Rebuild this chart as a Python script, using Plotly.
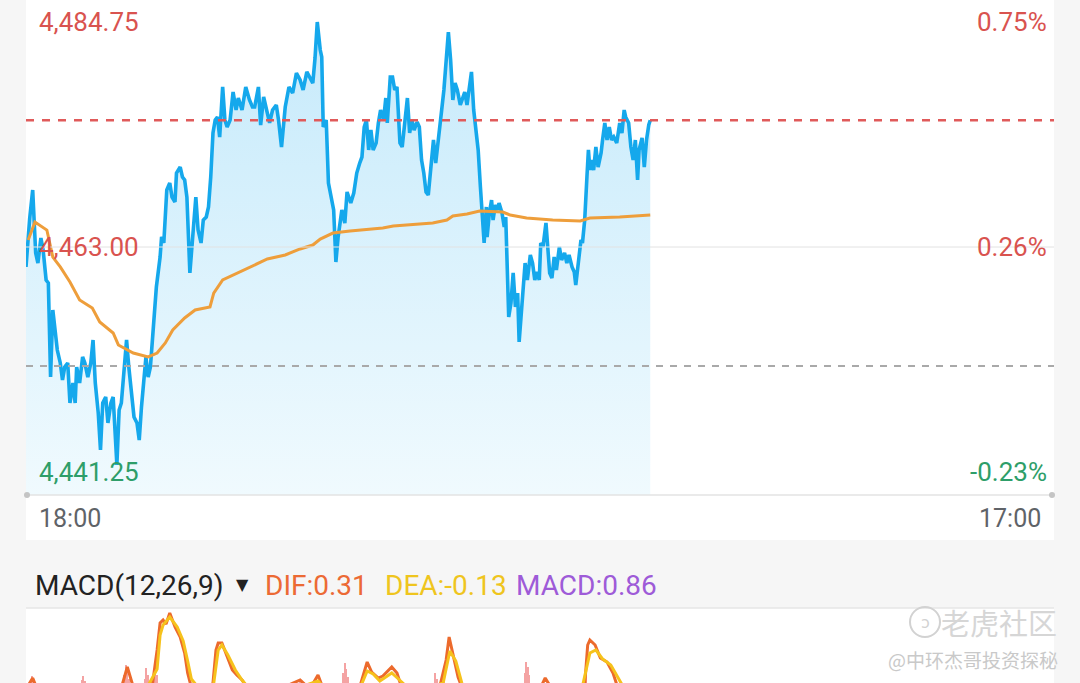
import plotly.graph_objects as go

W, H = 1080, 683

# ---------------- data ----------------
prev_close = 4451.50
last_price = 4475.25
session_minutes = 1380  # 18:00 -> 17:00 next day

left_labels = ["4,484.75", "4,463.00", "4,441.25"]
label_values = [4484.75, 4463.00, 4441.25]
right_labels = ["0.75%", "0.26%", "-0.23%"]
time_labels = ["18:00", "17:00"]

# minutes after 18:00
price_t = [0, 3, 5, 9, 11, 13, 16, 20, 23, 27, 30, 33, 36, 39, 42, 46, 49, 52, 56, 59,
           63, 66, 68, 72, 76, 79, 83, 87, 90, 93, 97, 100, 103, 107, 110, 114, 117, 122, 125, 128,
           132, 135, 138, 142, 145, 149, 152, 155, 158, 161, 164, 167, 170, 175, 180, 182, 185, 189, 193, 196,
           200, 202, 207, 210, 213, 216, 220, 224, 228, 231, 235, 238, 242, 245, 248, 251, 254, 257, 260, 264,
           267, 270, 274, 278, 282, 285, 290, 295, 300, 304, 307, 312, 315, 319, 323, 327, 331, 336, 339, 343,
           348, 353, 358, 363, 368, 372, 377, 381, 385, 388, 391, 395, 397, 399, 403, 406, 410, 413, 416, 419,
           424, 428, 431, 436, 440, 444, 448, 451, 454, 457, 460, 463, 466, 470, 473, 476, 480, 483, 485, 489,
           492, 495, 498, 502, 505, 509, 512, 515, 518, 521, 525, 528, 531, 534, 537, 540, 543, 547, 550, 553,
           558, 561, 565, 567, 570, 573, 576, 579, 583, 586, 589, 592, 595, 598, 601, 605, 607, 610, 613, 615,
           618, 619, 622, 625, 627, 630, 633, 635, 639, 642, 644, 646, 648, 651, 654, 657, 660, 662, 667, 670,
           673, 677, 680, 683, 686, 689, 691, 694, 698, 700, 703, 706, 709, 712, 716, 719, 723, 726, 729, 733,
           736, 738, 741, 745, 747, 750, 753, 755, 757, 759, 762, 765, 768, 772, 774, 777, 780, 783, 786, 789,
           793, 797, 800, 803, 805, 809, 812, 815, 818, 821, 823, 827, 830, 833, 836, 838]
price_v = [4461.07, 4464.64, 4465.80, 4468.51, 4465.90, 4462.42, 4461.45, 4463.87, 4462.71, 4459.81,
           4459.52, 4450.43, 4456.91, 4454.98, 4453.04, 4451.79, 4450.14, 4451.40, 4451.79, 4447.92,
           4449.85, 4447.92, 4451.40, 4449.85, 4452.37, 4451.79, 4450.43, 4451.79, 4454.01, 4449.85,
           4446.95, 4443.38, 4447.92, 4448.50, 4445.99, 4447.92, 4448.50, 4441.93, 4447.24, 4447.92,
           4451.11, 4454.01, 4451.40, 4448.50, 4446.57, 4445.99, 4444.34, 4447.53, 4449.85, 4452.37,
           4450.43, 4451.40, 4454.30, 4459.13, 4462.03, 4463.97, 4463.39, 4468.51, 4469.19, 4467.83,
           4467.35, 4470.15, 4470.73, 4469.77, 4469.48, 4467.83, 4460.49, 4463.97, 4467.83, 4464.64,
           4463.39, 4465.61, 4465.90, 4466.87, 4469.77, 4474.02, 4475.28, 4475.57, 4473.63, 4478.47,
           4475.28, 4474.60, 4475.28, 4477.98, 4476.24, 4477.40, 4476.24, 4478.47, 4477.21, 4476.53,
           4476.53, 4478.47, 4474.79, 4477.50, 4476.24, 4474.99, 4476.24, 4476.73, 4475.28, 4472.67,
           4476.53, 4478.47, 4477.89, 4479.82, 4479.14, 4478.18, 4479.92, 4479.43, 4478.85, 4481.27,
           4484.75, 4482.04, 4481.37, 4474.60, 4475.28, 4469.19, 4467.83, 4466.58, 4461.55, 4463.97,
           4466.58, 4465.32, 4468.32, 4467.25, 4468.22, 4470.15, 4471.12, 4471.70, 4474.60, 4475.28,
           4472.38, 4474.31, 4472.38, 4473.05, 4474.99, 4476.24, 4475.28, 4477.40, 4474.99, 4479.43,
           4479.43, 4478.18, 4478.47, 4473.05, 4472.67, 4474.99, 4477.40, 4474.02, 4475.28, 4474.31,
           4475.08, 4474.60, 4471.41, 4470.15, 4468.32, 4468.03, 4470.73, 4473.34, 4471.12, 4473.34,
           4476.24, 4478.18, 4482.72, 4483.78, 4481.08, 4477.21, 4478.85, 4478.18, 4476.73, 4477.50,
           4477.98, 4476.73, 4478.18, 4479.92, 4476.24, 4474.02, 4472.38, 4468.80, 4465.90, 4463.39,
           4466.87, 4463.97, 4466.29, 4467.54, 4465.61, 4467.06, 4466.58, 4467.25, 4466.29, 4464.93,
           4465.90, 4461.45, 4456.23, 4457.59, 4460.49, 4457.20, 4458.55, 4453.82, 4458.17, 4461.45,
           4459.81, 4462.23, 4461.45, 4459.81, 4460.58, 4459.81, 4463.39, 4463.00, 4465.32, 4463.68,
           4460.49, 4460.00, 4462.03, 4460.78, 4463.00, 4461.74, 4462.42, 4461.45, 4462.23, 4461.07,
           4460.58, 4459.33, 4461.45, 4463.68, 4463.39, 4465.61, 4469.77, 4472.38, 4470.44, 4471.41,
           4470.44, 4472.67, 4470.73, 4472.09, 4473.34, 4474.99, 4473.34, 4474.60, 4473.34, 4473.63,
           4473.05, 4474.99, 4474.02, 4476.24, 4475.57, 4474.99, 4472.67, 4471.41, 4473.34, 4469.48,
           4472.38, 4473.54, 4470.73, 4473.34, 4474.80, 4475.25]

avg_t = [3, 12, 28, 32, 36, 46, 59, 72, 89, 99, 117, 124, 144, 164, 176, 187, 197, 213, 227, 247,
         252, 264, 287, 305, 324, 348, 368, 385, 395, 412, 435, 479, 493, 546, 565, 573, 592, 609, 640, 650,
         672, 707, 744, 757, 797, 838]
avg_v = [4463.68, 4465.42, 4464.64, 4463.19, 4462.03, 4461.07, 4459.62, 4457.88, 4457.10, 4455.75,
         4454.69, 4453.53, 4452.75, 4452.37, 4452.75, 4453.72, 4454.98, 4456.14, 4456.91, 4457.20,
         4458.55, 4459.81, 4460.58, 4461.26, 4461.84, 4462.23, 4462.81, 4463.19, 4463.77, 4464.35,
         4464.55, 4464.84, 4465.03, 4465.32, 4465.61, 4466.00, 4466.19, 4466.48, 4466.38, 4466.09,
         4465.80, 4465.61, 4465.51, 4465.80, 4465.90, 4466.09]

dif_t = [0, 9, 16, 46, 99, 126, 136, 144, 160, 170, 176, 180, 184, 188, 193, 200, 207, 213, 217, 224,
         240, 251, 255, 258, 263, 270, 277, 283, 290, 298, 328, 368, 381, 392, 401, 422, 448, 458, 464, 473,
         479, 491, 498, 505, 529, 556, 564, 568, 573, 580, 587, 609, 650, 677, 697, 706, 730, 750, 754, 757,
         764, 771, 780, 788, 795, 811, 838]
dif_v = [0.5, 1.05, 0.4, -0.5, -0.8, 0.3, 1.6, 0.6, 0.3, 0.8, 2.45, 3.8, 3.95, 3.75, 4.3, 3.6, 3.1, 2.3, 1.3, 0.3,
         0.2, 0.8, 2.45, 2.8, 2.8, 2.1, 1.45, 1.2, 0.95, 0.5, 0.3, 0.95, 0.5, 1.2, 0.3, -0.5, 0.6, 1.85, 1.35, 1.05,
         1.15, 1.6, 1.3, 0.5, 0.2, 0.7, 1.95, 3.1, 2.3, 1.1, 0.4, -1.0, -1.5, -0.5, 1.05, 0.5, 0.4, 0.7, 2.7, 2.95,
         2.7, 2.05, 1.85, 1.3, 0.5, 0.2, 0.31]

dea_t = [0, 16, 46, 99, 136, 160, 176, 180, 184, 193, 203, 211, 217, 222, 235, 251, 258, 263, 271, 281,
         290, 300, 368, 392, 410, 440, 458, 466, 475, 491, 500, 520, 560, 569, 577, 585, 610, 660, 700, 745,
         757, 765, 774, 785, 795, 805, 838]
dea_v = [0.3, 0.4, -0.2, -0.6, 0.6, 0.4, 1.5, 3.2, 3.7, 4.1, 3.6, 2.9, 1.9, 1.0, 0.4, 0.5, 2.45, 2.7, 2.2, 1.45,
         0.95, 0.5, 0.6, 0.9, 0.2, -0.2, 1.4, 1.25, 0.9, 1.3, 1.0, 0.3, 0.8, 2.4, 1.9, 0.8, -0.7, -1.2, 0.5, 0.3,
         2.3, 2.45, 2.0, 1.7, 1.05, 0.4, -0.13]

hist_t = [9, 75, 77, 79, 132, 134, 136, 138, 160, 162, 164, 174, 176, 368, 426, 428, 430, 432,
          550, 552, 562, 670, 672, 674, 676, 752]
hist_v = [1.15, 0.95, 1.15, 0.9, 1.2, 1.7, 1.5, 1.0, 1.0, 1.55, 1.2, 1.5, 1.2, 0.95, 1.3, 1.8, 1.5, 1.1,
          1.3, 1.0, 1.5, 1.3, 1.85, 1.6, 1.2, 1.4]

macd_title = "MACD(12,26,9)"
macd_values = ["DIF:0.31", "DEA:-0.13", "MACD:0.86"]

assert len(price_t) == len(price_v)
assert len(avg_t) == len(avg_v)
assert len(dif_t) == len(dif_v)
assert len(dea_t) == len(dea_v)
assert len(hist_t) == len(hist_v)

# ---------------- layout helpers ----------------
def px(x):
    return x / W

def py(y):
    return 1 - y / H

X0, X1 = 26, 1054
FONT = "Roboto"
RED = "#d9534f"
GREEN = "#2e9e69"
BLUE = "#15a8ec"

fig = go.Figure()

fig.add_trace(go.Scatter(
    x=price_t, y=price_v, mode="lines",
    line=dict(color=BLUE, width=3.6),
    fill="tozeroy",
    fillgradient=dict(type="vertical",
                      colorscale=[[0, "#f0fafe"], [1, "#c6eafb"]],
                      start=4439, stop=4485),
    hoverinfo="skip", showlegend=False))

fig.add_trace(go.Scatter(
    x=avg_t, y=avg_v, mode="lines",
    line=dict(color="#ee9e3b", width=3),
    hoverinfo="skip", showlegend=False))

fig.add_trace(go.Bar(
    x=hist_t, y=hist_v, xaxis="x2", yaxis="y2",
    marker=dict(color="#f4a3a3", line=dict(width=0)), width=2,
    hoverinfo="skip", showlegend=False))

fig.add_trace(go.Scatter(
    x=dif_t, y=dif_v, xaxis="x2", yaxis="y2", mode="lines",
    line=dict(color="#ec6a2c", width=3),
    hoverinfo="skip", showlegend=False))

fig.add_trace(go.Scatter(
    x=dea_t, y=dea_v, xaxis="x2", yaxis="y2", mode="lines",
    line=dict(color="#f6c21c", width=3),
    hoverinfo="skip", showlegend=False))

shapes = [
    # white panels
    dict(type="rect", xref="paper", yref="paper", x0=px(X0), x1=px(X1), y0=py(540), y1=1,
         fillcolor="white", line=dict(width=0), layer="below"),
    dict(type="rect", xref="paper", yref="paper", x0=px(X0), x1=px(X1), y0=0, y1=py(608),
         fillcolor="white", line=dict(width=0), layer="below"),
    # middle grid line
    dict(type="line", xref="paper", yref="y", x0=px(X0), x1=px(X1), y0=label_values[1], y1=label_values[1],
         line=dict(color="#e2e2e2", width=1)),
    # previous close
    dict(type="line", xref="paper", yref="y", x0=px(X0), x1=px(X1), y0=prev_close, y1=prev_close,
         line=dict(color="#a9a9a9", width=2, dash="7px,7px")),
    # last price
    dict(type="line", xref="paper", yref="y", x0=px(X0), x1=px(X1), y0=last_price, y1=last_price,
         line=dict(color="#e05a5a", width=2.5, dash="8px,8px")),
    # bottom axis line
    dict(type="line", xref="paper", yref="paper", x0=px(X0), x1=px(X1), y0=py(495), y1=py(495),
         line=dict(color="#e3e3e3", width=1.5)),
    dict(type="circle", xref="paper", yref="paper", x0=px(24), x1=px(30), y0=py(498), y1=py(492),
         fillcolor="#c4c4c4", line=dict(width=0)),
    dict(type="circle", xref="paper", yref="paper", x0=px(1049), x1=px(1055), y0=py(498), y1=py(492),
         fillcolor="#c4c4c4", line=dict(width=0)),
    # separator above MACD panel
    dict(type="line", xref="paper", yref="paper", x0=px(X0), x1=px(X1), y0=py(608), y1=py(608),
         line=dict(color="#e6e6e6", width=1.5)),
    # watermark logo
    dict(type="circle", xref="paper", yref="paper", x0=px(910), x1=px(940), y0=py(637), y1=py(607),
         fillcolor="rgba(0,0,0,0)", line=dict(color="#d2d2d2", width=2)),
]

ann = []
colors = [RED, RED, GREEN]
for lab, val, col in zip(left_labels, label_values, colors):
    ann.append(dict(x=px(37), y=val, xref="paper", yref="y", text=lab, showarrow=False,
                    xanchor="left", yanchor="middle", font=dict(family=FONT, size=26, color=col)))
for lab, val, col in zip(right_labels, label_values, colors):
    ann.append(dict(x=px(1049), y=val, xref="paper", yref="y", text=lab, showarrow=False,
                    xanchor="right", yanchor="middle", font=dict(family=FONT, size=26, color=col)))

ann.append(dict(x=px(37), y=py(518), xref="paper", yref="paper", text=time_labels[0], showarrow=False,
                xanchor="left", yanchor="middle", font=dict(family=FONT, size=25, color="#5f6368")))
ann.append(dict(x=px(1043), y=py(518), xref="paper", yref="paper", text=time_labels[1], showarrow=False,
                xanchor="right", yanchor="middle", font=dict(family=FONT, size=25, color="#5f6368")))

ann.append(dict(x=px(33), y=py(585), xref="paper", yref="paper", text=macd_title, showarrow=False,
                xanchor="left", yanchor="middle", font=dict(family=FONT, size=28, color="#222222")))
ann.append(dict(x=px(234), y=py(584), xref="paper", yref="paper", text="▼", showarrow=False,
                xanchor="left", yanchor="middle", font=dict(family="DejaVu Sans", size=16, color="#222222")))
macd_cols = ["#ec6a34", "#efc51e", "#9e5bd8"]
macd_x = [263, 383, 514]
for txt, col, xx in zip(macd_values, macd_cols, macd_x):
    ann.append(dict(x=px(xx), y=py(585), xref="paper", yref="paper", text=txt, showarrow=False,
                    xanchor="left", yanchor="middle", font=dict(family=FONT, size=28, color=col)))

# watermark
ann.append(dict(x=px(925), y=py(622), xref="paper", yref="paper", text="ↄ", showarrow=False,
                xanchor="center", yanchor="middle", font=dict(family="DejaVu Sans", size=16, color="#d2d2d2")))
ann.append(dict(x=px(1059), y=py(622), xref="paper", yref="paper", text="老虎社区", showarrow=False,
                xanchor="right", yanchor="middle",
                font=dict(family="Noto Sans CJK SC", size=29, color="#d6d6d6")))
ann.append(dict(x=px(1060), y=py(659), xref="paper", yref="paper", text="@中环杰哥投资探秘", showarrow=False,
                xanchor="right", yanchor="middle",
                font=dict(family="Noto Sans CJK SC", size=19, color="#c9c9c9")))

fig.update_layout(
    width=W, height=H,
    margin=dict(l=0, r=0, t=0, b=0),
    paper_bgcolor="#f6f6f6",
    plot_bgcolor="rgba(0,0,0,0)",
    bargap=0,
    xaxis=dict(domain=[px(X0), px(X1)], range=[0, session_minutes], visible=False, fixedrange=True),
    yaxis=dict(domain=[py(495), py(10)], range=[4439.027, 4485.91], visible=False, fixedrange=True),
    xaxis2=dict(domain=[px(X0), px(X1)], range=[0, session_minutes], visible=False, anchor="y2",
                fixedrange=True),
    yaxis2=dict(domain=[0, py(608)], range=[0.8, 4.55], visible=False, anchor="x2", fixedrange=True),
    shapes=shapes,
    annotations=ann,
)

fig.write_html("out.html", config={"displayModeBar": False},
               post_script="document.body.style.margin='0';document.body.style.overflow='hidden';")
